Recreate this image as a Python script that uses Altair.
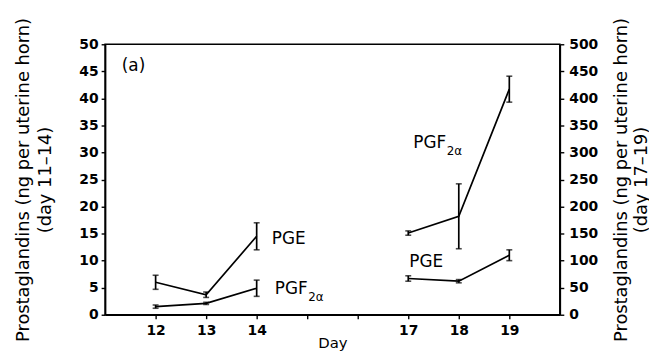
import altair as alt
import pandas as pd

# ---- data ----
days_early = [12, 13, 14]
pge_early = [6.0, 3.7, 14.5]
pge_early_err = [1.3, 0.5, 2.5]
pgf_early = [1.5, 2.1, 4.9]
pgf_early_err = [0.3, 0.2, 1.5]

days_late = [17, 18, 19]
pge_late = [67, 62, 110]
pge_late_err = [5, 3, 10]
pgf_late = [151, 182, 417]
pgf_late_err = [4, 60, 24]

x_ticks = [12, 13, 14, 15, 16, 17, 18, 19]

# annotation labels (main text, subscript)
ann_early = pd.DataFrame({"day": [14.3, 14.36, 11.33], "val": [14.0, 4.8, 46.0],
                          "txt": ["PGE", "PGF", "(a)"]})
sub_early = pd.DataFrame({"day": [15.02], "val": [3.3], "txt": ["2α"]})
ann_late = pd.DataFrame({"day": [17.02, 17.1], "val": [97, 317], "txt": ["PGE", "PGF"]})
sub_late = pd.DataFrame({"day": [17.76], "val": [302], "txt": ["2α"]})


def frame(days, vals, errs, name):
    return pd.DataFrame({
        "day": days, "val": vals,
        "lo": [v - e for v, e in zip(vals, errs)],
        "hi": [v + e for v, e in zip(vals, errs)],
        "series": name,
    })


early = pd.concat([frame(days_early, pge_early, pge_early_err, "PGE"),
                   frame(days_early, pgf_early, pgf_early_err, "PGF2a")])
late = pd.concat([frame(days_late, pge_late, pge_late_err, "PGE"),
                  frame(days_late, pgf_late, pgf_late_err, "PGF2a")])

FONT = "DejaVu Sans"
W, H = 459, 273

x_axis = alt.Axis(values=x_ticks, title="Day", grid=False,
                  labelExpr="(datum.value == 15 || datum.value == 16) ? '' : datum.label",
                  tickSize=4, labelPadding=5,
                  titleY=33, titleBaseline="alphabetic",
                  labelFontSize=14, titleFontSize=15)
X = lambda f="day": alt.X(f"{f}:Q", scale=alt.Scale(domain=[11, 20], nice=False), axis=x_axis)

left_axis = alt.Axis(orient="left", values=list(range(0, 51, 5)), grid=False,
                     title=["Prostaglandins (ng per uterine horn)", "(day 11–14)"],
                     titleAngle=270, titleBaseline="middle", titleAlign="center",
                     titleX=-82, titleY=H / 2,
                     titleFontSize=18, titleLineHeight=22,
                     tickSize=4, labelPadding=3, labelFontSize=14)
right_axis = alt.Axis(orient="right", values=list(range(0, 501, 50)), grid=False,
                      title=["Prostaglandins (ng per uterine horn)", "(day 17–19)"],
                      titleAngle=270, titleBaseline="middle", titleAlign="center",
                      titleX=62, titleY=H / 2,
                      titleFontSize=18, titleLineHeight=20,
                      tickSize=4, labelPadding=5, labelFontSize=14)


def group(df, ann, sub, domain, axis):
    sc = alt.Scale(domain=domain, nice=False)
    Y = lambda f: alt.Y(f"{f}:Q", scale=sc, axis=axis)
    base = alt.Chart(df)
    line = base.mark_line(color="black", strokeWidth=1.7).encode(
        x=X(), y=Y("val"), detail="series:N")
    rule = base.mark_rule(color="black", strokeWidth=1.7).encode(
        x=X(), y=Y("lo"), y2="hi:Q")
    cap_lo = base.mark_tick(color="black", orient="horizontal", size=6, thickness=1.6).encode(
        x=X(), y=Y("lo"))
    cap_hi = base.mark_tick(color="black", orient="horizontal", size=6, thickness=1.6).encode(
        x=X(), y=Y("hi"))
    txt = alt.Chart(ann).mark_text(align="left", baseline="middle", font=FONT,
                                   fontSize=17, color="black").encode(
        x=X(), y=Y("val"), text="txt:N")
    stxt = alt.Chart(sub).mark_text(align="left", baseline="middle", font=FONT,
                                    fontSize=12, color="black").encode(
        x=X(), y=Y("val"), text="txt:N")
    return alt.layer(line, rule, cap_lo, cap_hi, txt, stxt)


left = group(early, ann_early, sub_early, [0, 50], left_axis)
right = group(late, ann_late, sub_late, [0, 500], right_axis)

chart = alt.layer(left, right).resolve_scale(y="independent").properties(
    width=W, height=H,
    autosize=alt.AutoSizeParams(type="none"),
    padding={"left": 98, "top": 35, "right": 90, "bottom": 36},
    background="white",
).configure_view(stroke="black", strokeWidth=1.6).configure_axis(
    domainColor="black", domainWidth=1.6, tickColor="black", tickWidth=1.4,
    labelColor="black", titleColor="black", labelFont=FONT, titleFont=FONT,
    labelFontWeight="bold", titleFontWeight="normal",
)

chart.save("out.html", embed_options={"renderer": "svg", "actions": False})
